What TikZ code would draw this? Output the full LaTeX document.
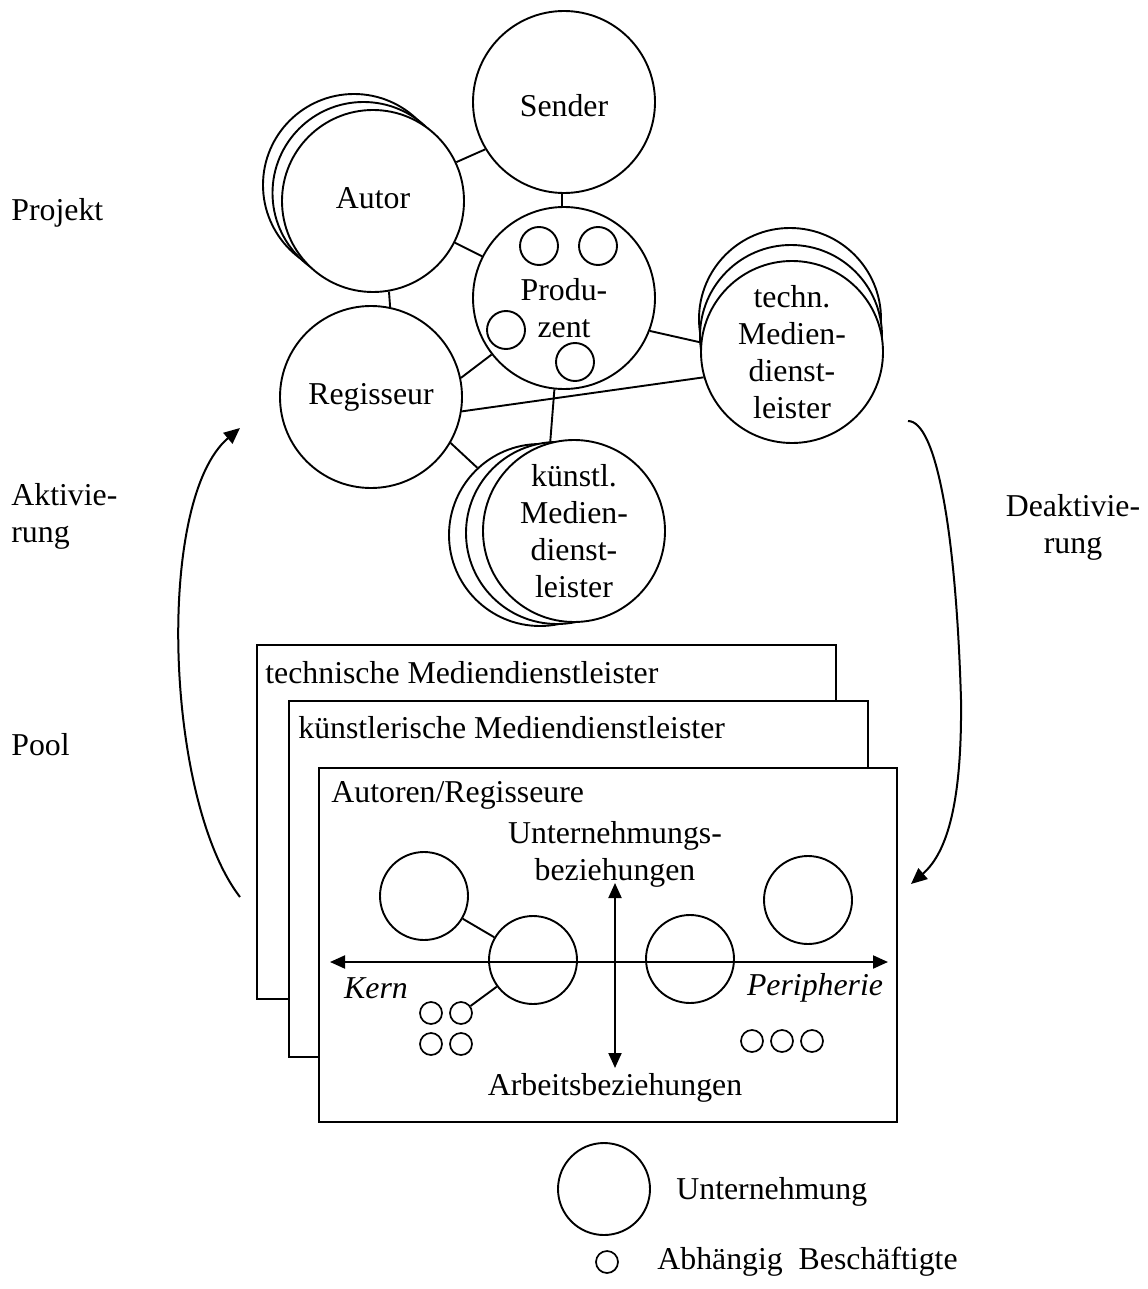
\documentclass[tikz,border=0pt]{standalone}
\usepackage{fontspec}
\setmainfont{Liberation Serif}
\usetikzlibrary{arrows.meta}
\begin{document}
\begin{tikzpicture}[x=0.5pt,y=-0.5pt,
  every node/.style={font=\fontsize{15.9}{18.6}\selectfont},
  txt/.style={inner sep=0pt,align=center},
  ltxt/.style={inner sep=0pt,align=left,anchor=west},
  big/.style={circle,draw,line width=0.95pt,fill=white,minimum size=91pt,inner sep=0pt,align=center},
  inner/.style={circle,draw,line width=0.95pt,minimum size=19pt,inner sep=0pt},
  firm/.style={circle,draw,line width=0.95pt,minimum size=44pt,inner sep=0pt},
  emp/.style={circle,draw,line width=0.85pt,minimum size=11pt,inner sep=0pt},
  conn/.style={line width=0.95pt},
  box/.style={draw,line width=0.95pt,fill=white},
  axis/.style={line width=1pt,{Triangle[length=7.5pt,width=6.5pt]}-{Triangle[length=7.5pt,width=6.5pt]}},
  flow/.style={line width=1pt,-{Triangle[length=8pt,width=7pt]}}
]
\useasboundingbox (0,0) rectangle (1147,1289);

% ---------- Projekt cluster ----------
\node[big] (sender) at (564,102) {};
\node[txt] (sendertxt) at (564,106) {Sender};

\node[big] (autorC) at (354,185) {};
\node[big] (autorB) at (363.5,193) {};
\node[big] (autor) at (373,201) {};
\node[txt] (autortxt) at (373,198) {Autor};

\node[big] (prod) at (564,298) {};
\node[txt] (prodtxt) at (564,308) {Produ-\\zent};
\node[inner] (p1) at (539,246) {};
\node[inner] (p2) at (598,246) {};
\node[inner] (p3) at (506,330) {};
\node[inner] (p4) at (575,362) {};

\node[big] (reg) at (371,397) {Regisseur};

\node[big] (technC) at (790,319) {};
\node[big] (technB) at (791,336) {};
\node[big] (techn) at (792,352) {techn.\\Medien-\\dienst-\\leister};

\node[big] (kuenstC) at (540,535) {};
\node[big] (kuenstB) at (557,533) {};
\node[big] (kuenst) at (574,531) {k\"unstl.\\Medien-\\dienst-\\leister};

\draw[conn] (autor.25.5) -- (sender.211.3);
\draw[conn] (sender.-91) -- (prod.91);
\draw[conn] (autor.-27.7) -- (prod.153.2);
\draw[conn] (autor.-80.4) -- (reg.78.7);
\draw[conn] (prod.218.4) -- (reg.12.7);
\draw[conn] (prod.-21.8) -- (techn.174.4);
\draw[conn] (reg.-9.6) -- (techn.196.3);
\draw[conn] (prod.-96.9) -- (kuenst.105.7);
\draw[conn] (reg.-30.3) -- (kuenstC.133.2);

% ---------- side labels ----------
\node[ltxt] (projekt) at (11,213) {Projekt};
\node[ltxt] (aktiv) at (11,516) {Aktivie-\\rung};
\node[ltxt] (pool) at (11,745) {Pool};
\node[txt] (deaktiv) at (1073,527) {Deaktivie-\\rung};

% ---------- flows ----------
\coordinate (aS) at (240,897);
\coordinate (aE) at (240,428);
\draw[flow] (aS) .. controls (165,800) and (155,500) .. (aE);
\coordinate (dS) at (908,421);
\coordinate (dM) at (961,700);
\coordinate (dE) at (911,884);
\draw[flow] (dS) .. controls (936,421) and (956,530) .. (dM)
            .. controls (962,800) and (948,852) .. (dE);

% ---------- Pool boxes ----------
\draw[box] (257,645) rectangle (836,999);
\node[ltxt] (b1txt) at (265,673) {technische Mediendienstleister};
\draw[box] (289,701) rectangle (868,1057);
\node[ltxt] (b2txt) at (298,728) {k\"unstlerische Mediendienstleister};
\draw[box] (319,768) rectangle (897,1122);
\node[ltxt] (b3txt) at (331,795) {Autoren/Regisseure};

\node[txt] (ub) at (615,854) {Unternehmungs-\\beziehungen};
\node[txt] (ab) at (615,1088) {Arbeitsbeziehungen};
\node[txt] (kern) at (376,988) {\itshape Kern};
\node[txt] (peri) at (815,988) {\itshape Peripherie};

\coordinate (hl) at (330,962);
\coordinate (hr) at (888,962);
\coordinate (vt) at (615,883);
\coordinate (vb) at (615,1068);
\draw[axis] (hl) -- (hr);
\draw[axis] (vt) -- (vb);

\node[firm] (ftl) at (424,896) {};
\node[firm] (fcl) at (533,960) {};
\node[firm] (fcr) at (690,959) {};
\node[firm] (ftr) at (808,900) {};
\node[emp] (k1) at (431,1013) {};
\node[emp] (k2) at (461,1013) {};
\node[emp] (k3) at (431,1044) {};
\node[emp] (k4) at (461,1044) {};
\node[emp] (e1) at (752,1041) {};
\node[emp] (e2) at (782,1041) {};
\node[emp] (e3) at (812,1041) {};
\draw[conn] (ftl) -- (fcl);
\draw[conn] (fcl) -- (k2);

% ---------- legend ----------
\node[circle,draw,line width=0.95pt,minimum size=46pt,inner sep=0pt] (lg1) at (604,1189) {};
\node[ltxt] (lg1txt) at (676,1192) {Unternehmung};
\node[emp] (lg2) at (607,1262) {};
\node[ltxt] (lg2txt) at (657,1262) {Abh\"angig\ \ Besch\"aftigte};
\end{tikzpicture}
\end{document}
